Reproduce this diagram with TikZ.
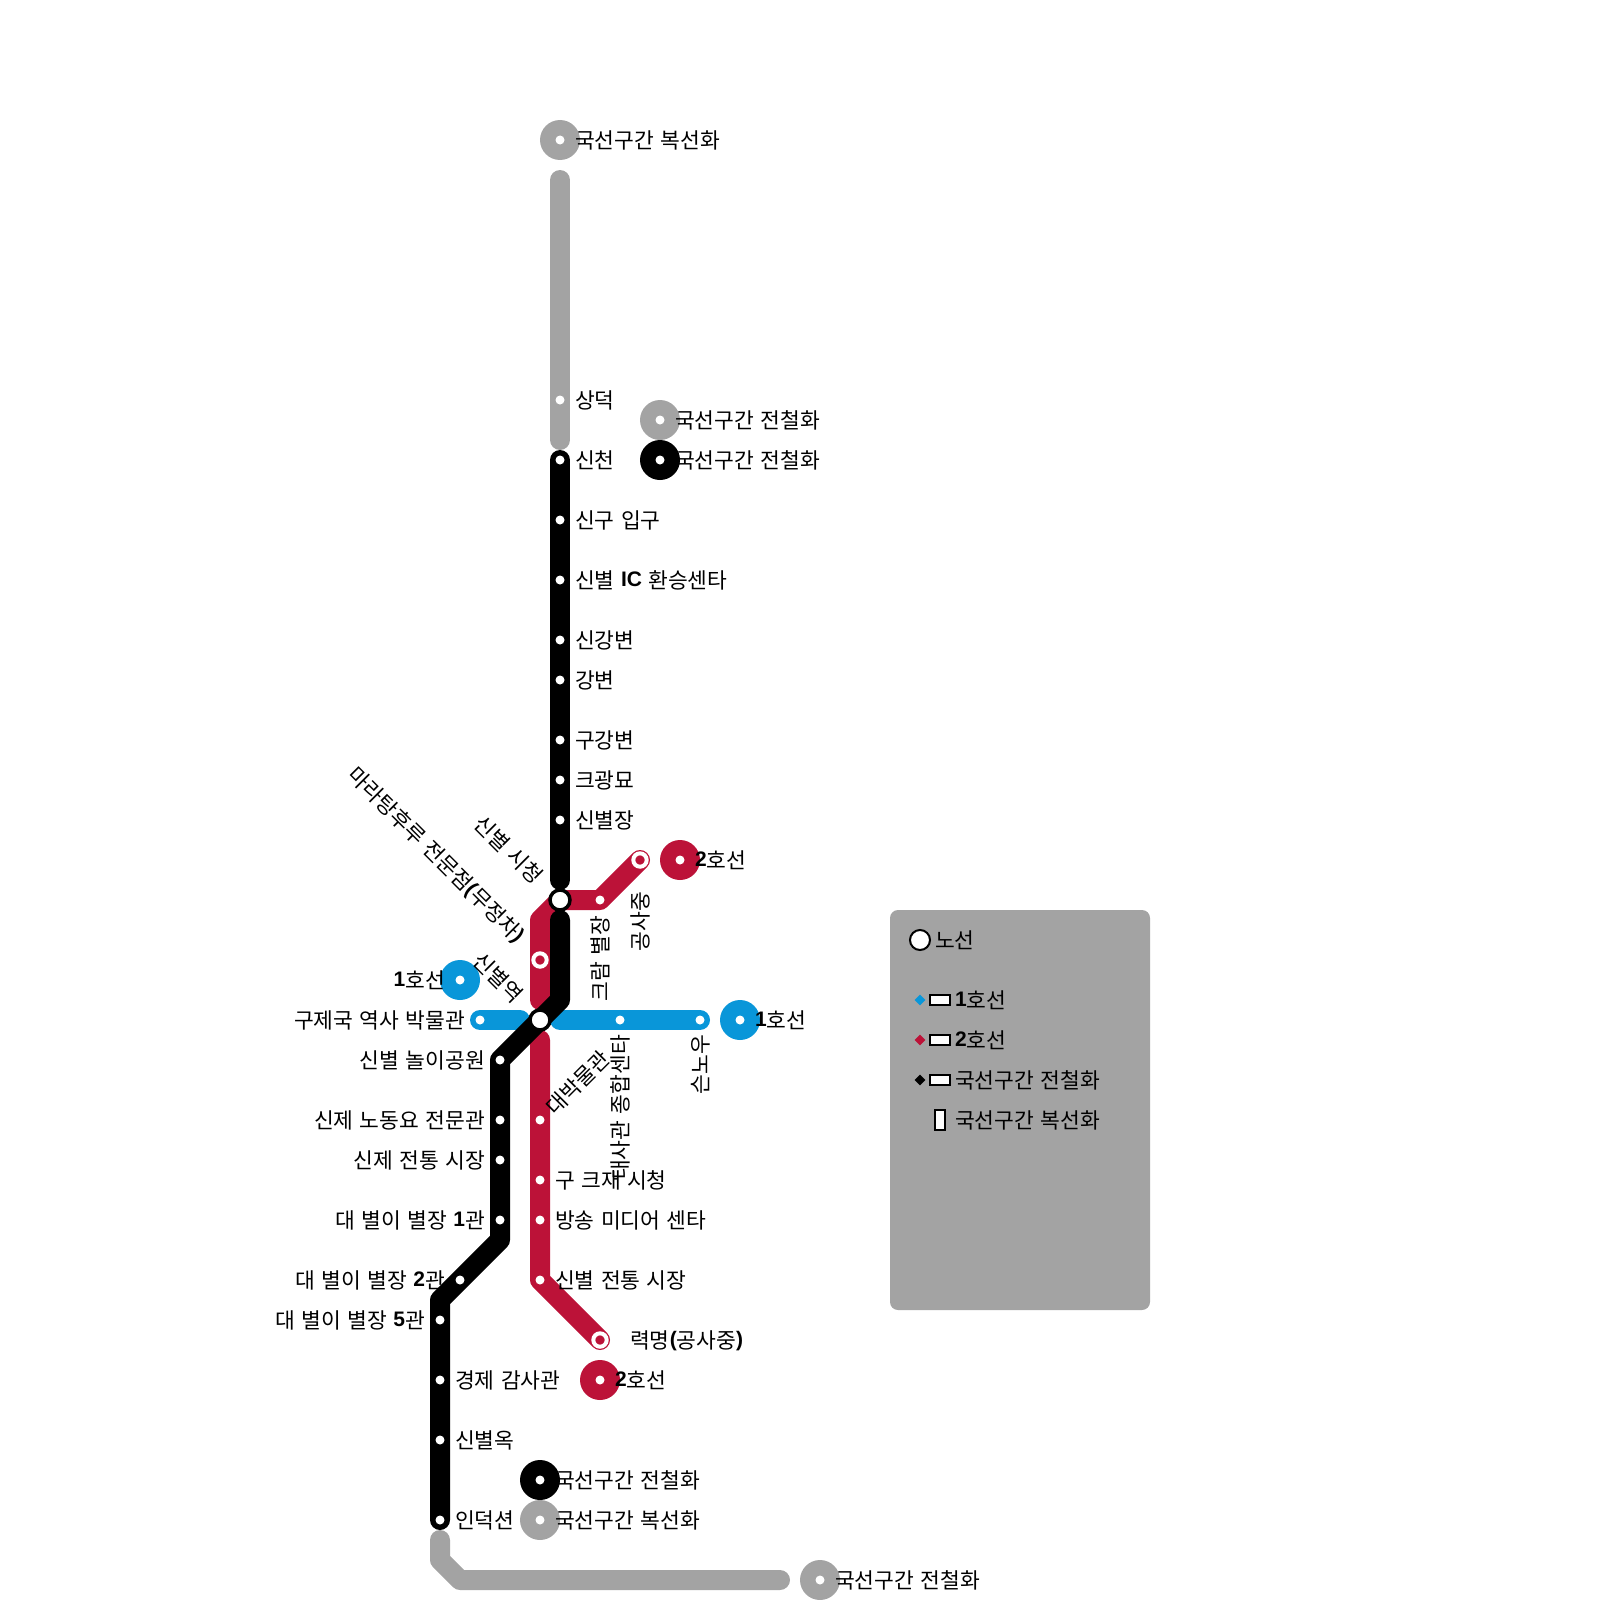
\documentclass[tikz,border=0pt]{standalone}
\usepackage{fontspec}
\setmainfont{Noto Sans CJK KR}[WordSpace=1.3]
\newfontfamily\latinbold{Liberation Sans Bold}
\newcommand{\Bd}[1]{\raisebox{1.2pt}{\latinbold\fontsize{21}{24}\selectfont #1}}
\usetikzlibrary{shapes.geometric}
\definecolor{lineblue}{HTML}{0996D9}
\definecolor{linered}{HTML}{BC1238}
\definecolor{linegray}{HTML}{A3A3A3}
\tikzset{
  track/.style={line width=20pt,line cap=round,line join=round},
  stationdot/.style={circle,fill=white,inner sep=0pt,minimum size=9pt},
  ringstop/.style={circle,draw=white,line width=4pt,fill=linered,inner sep=0pt,minimum size=13.4pt},
  junction/.style={circle,draw=black,line width=3.5pt,fill=white,inner sep=0pt,minimum size=20pt},
  badge/.style={circle,inner sep=0pt,minimum size=40pt},
  lab/.style={inner sep=0pt,text height=18pt,text depth=1.8pt,font=\fontsize{21.5}{24}\selectfont},
  labr/.style={lab,anchor=west},
  labl/.style={lab,anchor=east},
  legrect/.style={draw=black,line width=2pt,fill=white,inner sep=0pt},
  legdia/.style={diamond,inner sep=0pt,minimum size=11pt},
}
\begin{document}
\begin{tikzpicture}[x=1pt,y=-1pt]
\useasboundingbox (0,0) rectangle (1600,1600);
% line points
\coordinate (g1) at (560,180); \coordinate (g2) at (560,440);
\coordinate (k1) at (560,460); \coordinate (k2) at (560,880);
\coordinate (k3) at (560,920); \coordinate (k4) at (560,1000);
\coordinate (k5) at (500,1060); \coordinate (k6) at (500,1240);
\coordinate (k7) at (440,1300); \coordinate (k8) at (440,1520);
\coordinate (b1) at (480,1020); \coordinate (b2) at (520,1020);
\coordinate (b3) at (560,1020); \coordinate (b4) at (700,1020);
\coordinate (r1) at (640,860); \coordinate (r2) at (600,900);
\coordinate (r3) at (560,900); \coordinate (r4) at (540,920);
\coordinate (r5) at (540,1000); \coordinate (r6) at (540,1040);
\coordinate (r7) at (540,1280); \coordinate (r8) at (600,1340);
\coordinate (h1) at (440,1540); \coordinate (h2) at (440,1560);
\coordinate (h3) at (460,1580); \coordinate (h4) at (780,1580);
% tracks
\draw[track,linegray] (g1) -- (g2);
\draw[track,linegray] (h1) -- (h2) -- (h3) -- (h4);
\draw[track,lineblue] (b1) -- (b2);
\draw[track,lineblue] (b3) -- (b4);
\draw[track,linered] (r1) -- (r2) -- (r3) -- (r4) -- (r5);
\draw[track,linered] (r6) -- (r7) -- (r8);
\draw[track,black] (k1) -- (k2);
\draw[track,black] (k3) -- (k4) -- (k5) -- (k6) -- (k7) -- (k8);
% junctions
\node[junction] (j1) at (560,900) {};
\node[junction] (j2) at (540,1020) {};
% terminal badges
\foreach \n/\x/\y/\c in {t1/560/140/linegray,t2/660/420/linegray,t3/660/460/black,t4/680/860/linered,t5/460/980/lineblue,t6/740/1020/lineblue,t7/600/1380/linered,t8/540/1480/black,t9/540/1520/linegray,t10/820/1580/linegray}{
  \node[badge,fill=\c] (\n) at (\x,\y) {};
  \node[stationdot] (\n d) at (\x,\y) {};
}
% ring stops
\node[ringstop] (q1) at (640,860) {};
\node[ringstop] (q2) at (540,960) {};
\node[ringstop] (q3) at (600,1340) {};
% stations
\foreach \n/\x/\y in {s1/560/400,s2/560/460,s3/560/520,s4/560/580,s5/560/640,s6/560/680,s7/560/740,s8/560/780,s9/560/820,
 s10/600/900,s11/480/1020,s12/620/1020,s13/700/1020,s14/500/1060,s15/500/1120,s16/500/1160,s17/500/1220,s18/460/1280,
 s19/440/1320,s20/440/1380,s21/440/1440,s22/440/1520,s23/540/1120,s24/540/1180,s25/540/1220,s26/540/1280}{
  \node[stationdot] (\n) at (\x,\y) {};
}
% right labels
\node[labr] (l1) at (575,140) {국선구간 복선화};
\node[labr] (l2) at (575,400) {상덕};
\node[labr] (l3) at (575,460) {신천};
\node[labr] (l4) at (575,520) {신구 입구};
\node[labr] (l5) at (575,580) {신별 \Bd{IC} 환승센타};
\node[labr] (l6) at (575,640) {신강변};
\node[labr] (l7) at (575,680) {강변};
\node[labr] (l8) at (575,740) {구강변};
\node[labr] (l9) at (575,780) {크광묘};
\node[labr] (l10) at (575,820) {신별장};
\node[labr] (l11) at (675,420) {국선구간 전철화};
\node[labr] (l12) at (675,460) {국선구간 전철화};
\node[labr] (l13) at (695,860) {\Bd{2}호선};
\node[labr] (l14) at (755,1020) {\Bd{1}호선};
\node[labr] (l15) at (555,1180) {구 크재 시청};
\node[labr] (l16) at (555,1220) {방송 미디어 센타};
\node[labr] (l17) at (555,1280) {신별 전통 시장};
\node[labr] (l18) at (630,1340) {력명\Bd{(}공사중\Bd{)}};
\node[labr] (l19) at (615,1380) {\Bd{2}호선};
\node[labr] (l20) at (455,1380) {경제 감사관};
\node[labr] (l21) at (455,1440) {신별옥};
\node[labr] (l22) at (455,1520) {인덕션};
\node[labr] (l23) at (555,1480) {국선구간 전철화};
\node[labr] (l24) at (555,1520) {국선구간 복선화};
\node[labr] (l25) at (835,1580) {국선구간 전철화};
% left labels
\node[labl] (m1) at (445,980) {\Bd{1}호선};
\node[labl] (m2) at (465,1020) {구제국 역사 박물관};
\node[labl] (m3) at (485,1060) {신별 놀이공원};
\node[labl] (m4) at (485,1120) {신제 노동요 전문관};
\node[labl] (m5) at (485,1160) {신제 전통 시장};
\node[labl] (m6) at (485,1220) {대 별이 별장 \Bd{1}관};
\node[labl] (m7) at (445,1280) {대 별이 별장 \Bd{2}관};
\node[labl] (m8) at (425,1320) {대 별이 별장 \Bd{5}관};
% slanted labels
\node[labl,rotate=-45] (n1) at (539,880) {신별 시청};
\node[labl,rotate=-45] (n2) at (521,939) {마라탕후루 전문점\Bd{(}무정차\Bd{)}};
\node[labl,rotate=-45] (n3) at (519,999) {신별역};
\node[labr,rotate=45] (n4) at (550,1111) {대박물관};
% vertical labels
\node[labl,rotate=90] (v1) at (600,916) {크람 별장};
\node[labl,rotate=90] (v2) at (640,892) {공사중};
\node[labl,rotate=90] (v3) at (620,1035) {대사관 종합센타};
\node[labl,rotate=90] (v4) at (700,1035) {슨노우};
% legend
\node[draw=none,fill=linegray,rounded corners=8pt,inner sep=0pt,minimum width=260pt,minimum height=400pt] (panel) at (1020,1110) {};
\node[circle,draw=black,line width=2pt,fill=white,inner sep=0pt,minimum size=20pt] (c0) at (920,940) {};
\node[labr] (e0) at (935,940) {노선};
\foreach \n/\y/\c in {a/1000/lineblue,b/1040/linered,c/1080/black}{
  \node[legdia,fill=\c] (d\n) at (920,\y) {};
  \node[legrect,minimum width=20pt,minimum height=10pt] (f\n) at (940,\y) {};
}
\node[legrect,minimum width=10pt,minimum height=20pt] (fd) at (940,1120) {};
\node[labr] (e1) at (955,1000) {\Bd{1}호선};
\node[labr] (e2) at (955,1040) {\Bd{2}호선};
\node[labr] (e3) at (955,1080) {국선구간 전철화};
\node[labr] (e4) at (955,1120) {국선구간 복선화};
\end{tikzpicture}
\end{document}
